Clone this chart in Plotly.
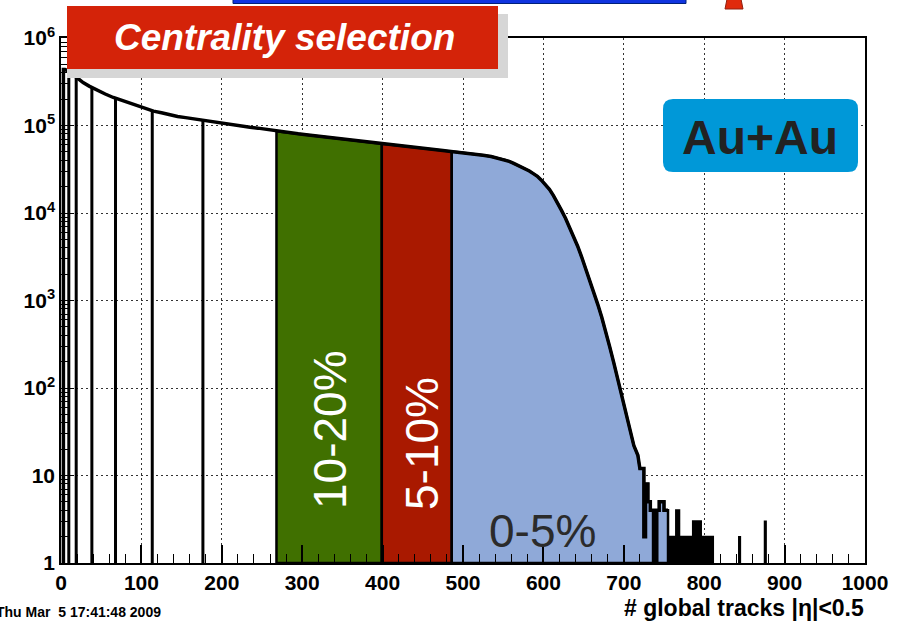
import math
import plotly.graph_objects as go

# ---------------- data ----------------
# histogram of "# global tracks |eta|<0.5" (Au+Au), bin left edges and counts
bin_left = ([3, 5, 10, 15, 20, 25] + list(range(30, 550, 10)) + list(range(550, 725, 5))
            + [725, 727, 730, 733, 735, 737, 738, 740, 741, 744, 750])
bin_last_right = 755
counts = [436000, 427000, 398000, 363000, 331000, 309000,
          282000, 251000, 229000, 209000, 195000, 182000, 170000, 155000, 146000, 140000,
          133000, 127000, 123000, 119000, 115000, 111000, 107000, 105000, 101000, 98900,
          95500, 93300, 90200, 87100, 84100, 82200, 80400, 78500, 76700, 74800,
          72800, 70800, 69200, 67300, 65600, 64000, 62400, 61000, 59600, 58200,
          56900, 55600, 54300, 53100, 51800, 50500, 49500, 48400, 47100, 45700,
          44200, 42200,
          40300, 38900, 37200, 35500, 33900, 32000, 30200, 28200, 26300, 23700,
          20900, 18600, 15800, 13200, 10700, 8700, 6900, 5400, 4200, 3160,
          2340, 1740, 1260, 910, 646, 447, 295, 195, 126, 79,
          50, 32, 22, 17, 12,
          2, 8, 5, 4, 4, 1, 4, 1, 4, 5, 4]

# sparse tail (dense alternating bins drawn as an envelope)
tail_left = [755, 765, 769, 786, 796]
tail_last_right = 811
tail_counts = [2, 4, 2, 3, 2]
# isolated single entries
spike_left = [843, 875]
spike_right = [845, 877]
spike_counts = [2, 3]

# centrality class boundaries
open_bounds = [9.7, 18.9, 38.4, 67.8, 113.5, 176.5]
class_names = ["10-20%", "5-10%", "0-5%"]
class_lo = [268, 399, 486]
class_hi = [399, 486, 755]
class_colors = ["#407000", "#a91900", "#8fa9d8"]

x_tick_vals = list(range(0, 1001, 100))
y_tick_vals = [1, 10, 100, 1e3, 1e4, 1e5, 1e6]
y_tick_text = ["1", "10", "10<sup>2</sup>", "10<sup>3</sup>", "10<sup>4</sup>",
               "10<sup>5</sup>", "10<sup>6</sup>"]
y_minor_vals = [k * 10 ** d for d in range(6) for k in range(2, 10)]

# ---------------- helpers ----------------
W, H = 901, 621
ML, MR, MT, MB = 61, 36, 38, 58
PW, PH = W - ML - MR, H - MT - MB


def px(xp):
    return (xp - ML) / PW


def py(yp):
    return (H - MB - yp) / PH


bin_right = bin_left[1:] + [bin_last_right]
tail_right = tail_left[1:] + [tail_last_right]


def outline(lefts, rights, vals, smooth_until):
    pts = [(lefts[0], 1)]
    for l, r, v in zip(lefts, rights, vals):
        if r - l >= 5 and l < smooth_until:
            pts.append(((l + r) / 2, v))
        else:
            pts += [(l, v), (r, v)]
    return pts


def value_at(x, pts):
    # value on the drawn outline (linear in log space)
    for (x0, y0), (x1, y1) in zip(pts[1:-1], pts[2:]):
        if x0 <= x <= x1:
            if x1 == x0:
                return y1
            t = (x - x0) / (x1 - x0)
            return 10 ** (math.log10(y0) + t * (math.log10(y1) - math.log10(y0)))
    return pts[-1][1]


def region_polygon(a, b, pts):
    xs, ys = [a, a], [1, value_at(a, pts)]
    for x, y in pts[1:]:
        if a < x < b:
            xs.append(x)
            ys.append(y)
    xs += [b, b, a]
    ys += [value_at(b, pts), 1, 1]
    return xs, ys


main_pts = outline(bin_left, bin_right, counts, 720)
tail_pts = outline(tail_left, tail_right, tail_counts, 0)

fig = go.Figure()

# coloured centrality classes
for lo, hi, col in zip(class_lo, class_hi, class_colors):
    xs, ys = region_polygon(lo, hi, main_pts)
    fig.add_trace(go.Scatter(x=xs, y=ys, mode="lines", fill="toself", fillcolor=col,
                             line=dict(color="black", width=2.5), hoverinfo="skip",
                             showlegend=False))

# main histogram outline
fig.add_trace(go.Scatter(x=[p[0] for p in main_pts], y=[p[1] for p in main_pts], mode="lines",
                         line=dict(color="black", width=3.5), hoverinfo="skip",
                         showlegend=False))

# tail envelope
xs, ys = region_polygon(tail_left[0], tail_last_right, tail_pts)
fig.add_trace(go.Scatter(x=xs, y=ys, mode="lines", fill="toself", fillcolor="black",
                         line=dict(color="black", width=2), hoverinfo="skip", showlegend=False))
for l, r, c in zip(spike_left, spike_right, spike_counts):
    fig.add_trace(go.Scatter(x=[l, l, r, r, l], y=[1, c, c, 1, 1], mode="lines", fill="toself",
                             fillcolor="black", line=dict(color="black", width=1.5),
                             hoverinfo="skip", showlegend=False))

# boundary lines of the peripheral classes
bx, by = [], []
for b in open_bounds:
    bx += [b, b, None]
    by += [1, value_at(b, main_pts), None]
fig.add_trace(go.Scatter(x=bx, y=by, mode="lines", line=dict(color="black", width=3),
                         hoverinfo="skip", showlegend=False))

tickfont = dict(family="Liberation Sans, Arial", size=21, color="black", weight="bold")
grid_dash = "2px,3px"

fig.update_layout(
    width=W, height=H,
    margin=dict(l=ML, r=MR, t=MT, b=MB, autoexpand=False),
    paper_bgcolor="white", plot_bgcolor="white",
    showlegend=False,
    xaxis=dict(range=[0, 1000], tickmode="array", tickvals=x_tick_vals,
               ticks="inside", ticklen=18, tickwidth=1.5, tickcolor="black",
               showline=True, linecolor="black", linewidth=2, mirror=True,
               showgrid=True, gridcolor="#333333", griddash=grid_dash, gridwidth=1,
               zeroline=False, tickfont=tickfont,
               minor=dict(tickmode="linear", tick0=0, dtick=20, ticks="inside", ticklen=9,
                          tickwidth=1.2, tickcolor="black", showgrid=False)),
    yaxis=dict(type="log", range=[0, 6], tickmode="array", tickvals=y_tick_vals,
               ticktext=y_tick_text,
               ticks="inside", ticklen=13, tickwidth=1.2, tickcolor="black",
               showline=True, linecolor="black", linewidth=1.5, mirror=True,
               showgrid=True, gridcolor="#333333", griddash=grid_dash, gridwidth=1,
               zeroline=False, tickfont=tickfont,
               minor=dict(tickmode="array", tickvals=y_minor_vals, ticks="inside", ticklen=9,
                          tickwidth=1, tickcolor="black", showgrid=False)),
)


def rounded_path(x0, y0, x1, y1, r):
    # pixel coords -> paper path
    rx, ry = r / PW, r / PH
    X0, X1 = px(x0), px(x1)
    Yt, Yb = py(y0), py(y1)
    return (f"M {X0+rx},{Yt} L {X1-rx},{Yt} Q {X1},{Yt} {X1},{Yt-ry} "
            f"L {X1},{Yb+ry} Q {X1},{Yb} {X1-rx},{Yb} L {X0+rx},{Yb} "
            f"Q {X0},{Yb} {X0},{Yb+ry} L {X0},{Yt-ry} Q {X0},{Yt} {X0+rx},{Yt} Z")


shapes = [
    # title box shadow + box
    dict(type="rect", xref="paper", yref="paper", x0=px(67), x1=px(508), y0=py(14), y1=py(78),
         fillcolor="#d6d6d6", line=dict(width=0), layer="above"),
    dict(type="rect", xref="paper", yref="paper", x0=px(67), x1=px(498), y0=py(6), y1=py(69),
         fillcolor="#d42309", line=dict(width=0), layer="above"),
    # Au+Au box
    dict(type="path", xref="paper", yref="paper", path=rounded_path(663, 99, 858, 172, 10),
         fillcolor="#0098d8", line=dict(width=0), layer="above"),
    # cut-off decorations at the top edge
    dict(type="rect", xref="paper", yref="paper", x0=px(233), x1=px(686), y0=py(3.5), y1=py(-2),
         fillcolor="#1034e0", line=dict(color="#00207a", width=1), layer="above"),
    dict(type="path", xref="paper", yref="paper",
         path=f"M {px(727)},{py(-1)} L {px(741)},{py(-1)} L {px(743)},{py(9)} L {px(725)},{py(9)} Z",
         fillcolor="#e02a0c", line=dict(color="#902010", width=1), layer="above"),
]
fig.update_layout(shapes=shapes)

font = "Liberation Sans, Arial"
ann = [
    dict(text="<b><i>Centrality selection</i></b>", x=px(284), y=py(37),
         font=dict(family=font, size=37, color="white")),
    dict(text="<b>Au+Au</b>", x=px(760), y=py(137),
         font=dict(family=font, size=48, color="#222222")),
    dict(text=class_names[0], x=px(330), y=py(430), textangle=-90,
         font=dict(family=font, size=46, color="white")),
    dict(text=class_names[1], x=px(422), y=py(444), textangle=-90,
         font=dict(family=font, size=46, color="white")),
    dict(text=class_names[2], x=px(542), y=py(531),
         font=dict(family=font, size=46, color="#2b2b2b")),
    dict(text="<b># global tracks |η|<0.5</b>", x=px(866), y=py(608), xanchor="right",
         font=dict(family=font, size=23, color="black")),
    dict(text="<b>Thu Mar \u00a05 17:41:48 2009</b>", x=px(-6), y=py(612), xanchor="left",
         font=dict(family=font, size=14, color="black")),
]
for a in ann:
    a.setdefault("xanchor", "center")
    fig.add_annotation(xref="paper", yref="paper", yanchor="middle", showarrow=False, **a)

fig.write_html("out.html")
